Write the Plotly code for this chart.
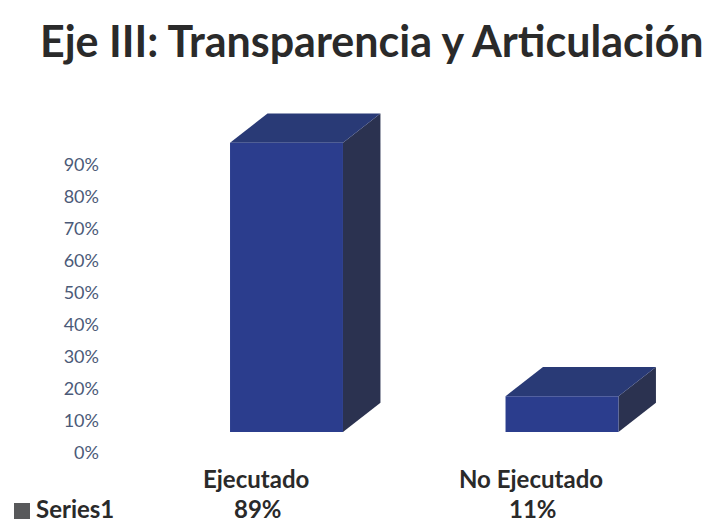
import plotly.graph_objects as go

# ---- data ----
title_text = "Eje III: Transparencia y Articulación"
categories = ["Ejecutado", "No Ejecutado"]
values = [89, 11]              # percent
value_labels = ["89%", "11%"]
series_name = "Series1"
tick_values = [0, 10, 20, 30, 40, 50, 60, 70, 80, 90]
tick_labels = ["0%", "10%", "20%", "30%", "40%", "50%", "60%", "70%", "80%", "90%"]

# ---- style / geometry (page body has an 8px margin) ----
W, H = 703, 517
bar_w = 0.41          # front face width (x units)
dx, dy = 0.136, 9.0   # 3D depth offset (x units, % units)
c_front = "#2b3d8d"
c_top = "#293a76"
c_side = "#2b3250"
txt_dark = "#2a2a2a"
bold_font = "Lato, sans-serif"

fig = go.Figure()

for i, (cat, v) in enumerate(zip(categories, values)):
    x0, x1 = i - bar_w / 2, i + bar_w / 2
    # right side face
    fig.add_trace(go.Scatter(
        x=[x1, x1 + dx, x1 + dx, x1, x1], y=[0, dy, v + dy, v, 0],
        fill="toself", fillcolor=c_side, mode="lines", line=dict(width=0, color=c_side),
        hoverinfo="skip", showlegend=False))
    # top face
    fig.add_trace(go.Scatter(
        x=[x0, x1, x1 + dx, x0 + dx, x0], y=[v, v, v + dy, v + dy, v],
        fill="toself", fillcolor=c_top, mode="lines", line=dict(width=0, color=c_top),
        hoverinfo="skip", showlegend=False))
    # front face
    fig.add_trace(go.Scatter(
        x=[x0, x1, x1, x0, x0], y=[0, 0, v, v, 0],
        fill="toself", fillcolor=c_front, mode="lines", line=dict(width=0, color=c_front),
        name=cat, hovertemplate=cat + ": %{text}<extra></extra>",
        text=[f"{v}%"] * 5, showlegend=False))

# invisible trace to activate the tick-label axis
fig.add_trace(go.Scatter(x=[0], y=[0], yaxis="y2", mode="markers",
                         marker=dict(opacity=0), hoverinfo="skip", showlegend=False))

annotations = [
    dict(text=f"<b>{title_text}</b>", x=364 / W, y=1 - 33 / H, xref="paper", yref="paper",
         xanchor="center", yanchor="middle", showarrow=False,
         font=dict(family=bold_font, size=43, color=txt_dark)),
    dict(text=f"<b>{series_name}</b>",
         x=26 / W, y=0, xref="paper", yref="paper",
         xanchor="left", yanchor="bottom", showarrow=False,
         font=dict(family=bold_font, size=24, color=txt_dark)),
]
for i, (cat, lab) in enumerate(zip(categories, value_labels)):
    annotations.append(dict(text=f"<b>{cat}</b>", x=i - 0.111, y=1 - 470 / H,
                            xref="x", yref="paper", xanchor="center", yanchor="middle",
                            showarrow=False, font=dict(family=bold_font, size=24, color=txt_dark)))
    annotations.append(dict(text=f"<b>{lab}</b>", x=i - 0.104, y=0,
                            xref="x", yref="paper", xanchor="center", yanchor="bottom",
                            showarrow=False, font=dict(family=bold_font, size=24, color=txt_dark)))

# legend key square of the data table
shapes = [dict(type="rect", xref="paper", yref="paper",
               x0=6 / W, x1=22 / W, y0=1 - 511 / H, y1=1 - 495 / H,
               fillcolor="#58595b", line=dict(width=0))]

fig.update_layout(
    width=W, height=H, autosize=False,
    margin=dict(l=0, r=0, t=0, b=0),
    paper_bgcolor="white", plot_bgcolor="white",
    xaxis=dict(range=[-1.0109, 1.5408], visible=False, fixedrange=True),
    yaxis=dict(range=[-28.615, 130.46], visible=False, fixedrange=True),
    yaxis2=dict(range=[-22.5, 139.06], overlaying="y", anchor="free", position=0.1294,
                side="left", tickvals=tick_values, ticktext=tick_labels,
                showgrid=False, zeroline=False, showline=False, ticks="",
                tickfont=dict(family="Lato, sans-serif", size=18, color="#4b5a78"),
                fixedrange=True),
    annotations=annotations,
    shapes=shapes,
    showlegend=False,
)

fig.write_html("out.html")
